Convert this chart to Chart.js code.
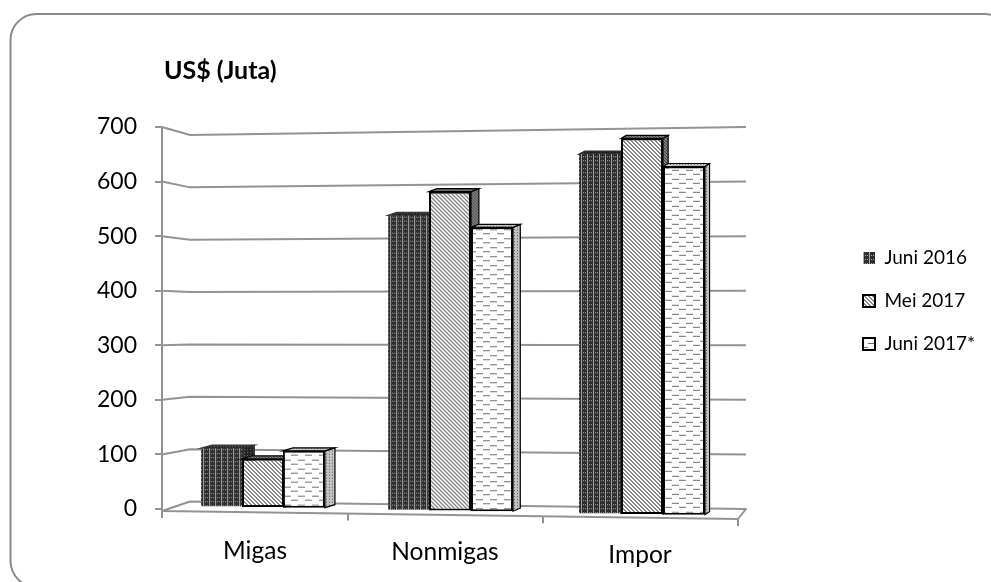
<!DOCTYPE html>
<html><head><meta charset="utf-8">
<script src="https://cdn.jsdelivr.net/npm/chart.js@4"></script>
<style>html,body{margin:0;padding:0;background:#fff}#w{width:991px;height:582px;position:relative}</style>
</head><body><div id="w"><canvas id="c" width="991" height="582"></canvas></div>
<script>
const categories = ['Migas','Nonmigas','Impor'];
const seriesNames = ['Juni 2016','Mei 2017','Juni 2017*'];
const juni2016 = [108, 541, 660];
const mei2017 = [90, 586, 690];
const juni2017 = [106, 522, 640];
const yTicksMax = 700, yTickStep = 100;

function tile(w,h,bg,fg,cells){
  const c=document.createElement('canvas');c.width=w;c.height=h;
  const g=c.getContext('2d');g.fillStyle=bg;g.fillRect(0,0,w,h);g.fillStyle=fg;
  cells.forEach(r=>g.fillRect(r[0],r[1],r[2],r[3]));
  return document.createElement('canvas').getContext('2d').createPattern(c,'repeat');
}
const pDark = tile(6,4,'#2e2e2e','#a8a8a8',[[5,0,1,4],[1,3,1,1],[3,3,1,1]]);
const pDiag = tile(4,4,'#ffffff','#8a8a8a',[[0,0,1,1],[1,1,1,1],[2,2,1,1],[3,3,1,1],[1,0,1,1],[2,1,1,1],[3,2,1,1],[0,3,1,1]]);
const pDash = tile(14,9,'#ffffff','#707070',[[0,1,7,1],[7,5,7,1]]);
const pSideDark = tile(3,3,'#222222','#777777',[[1,1,1,1]]);
const pSideDiag = tile(3,3,'#808080','#444444',[[0,0,1,1],[1,1,1,1],[2,2,1,1]]);
const pSideDash = tile(3,3,'#c4c4c4','#505050',[[1,1,1,1]]);
const sides=[pSideDark,pSideDiag,pSideDash];

const gridGray='#939393';
const labelPos=[[255,551],[445,552],[640,555]];
const front3d={
  id:'front3d',
  afterLayout(chart){
    const t=chart.titleBlock; t.left=164; t.right=500;
    const l=chart.legend; l.left=839; l.right=991; l.top=224.5; l.bottom=582;
  },
  beforeDraw(chart){
    const ctx=chart.ctx;
    ctx.save();ctx.strokeStyle='#8a8a8a';ctx.lineWidth=2;
    ctx.beginPath();ctx.roundRect(10.5,14,1000,573,26);ctx.stroke();ctx.restore();
    const items=chart.scales.x.getLabelItems(chart.chartArea);
    items.forEach((it,i)=>{it.options.translation=labelPos[i].slice();it.textOffset=0;it.options.textBaseline='middle';it.options.textAlign='center';});
  },
  beforeDatasetsDraw(chart){
    const ctx=chart.ctx,y=chart.scales.y,x=chart.scales.x;
    const a=chart.chartArea;
    ctx.save();ctx.strokeStyle=gridGray;ctx.lineWidth=2;ctx.lineJoin='round';
    const backL=190,backR=746;
    for(let v=yTickStep;v<=yTicksMax;v+=yTickStep){
      const p=y.getPixelForValue(v);
      const yl=501.5+(p-a.bottom)*366.5/382;
      ctx.beginPath();ctx.moveTo(a.left,p);ctx.lineTo(backL,yl);ctx.lineTo(backR,p);ctx.stroke();
    }
    ctx.beginPath();ctx.moveTo(a.left,a.bottom+2);ctx.lineTo(backL,501.5);ctx.lineTo(backR,a.bottom);ctx.lineTo(a.right,a.bottom+10);ctx.closePath();ctx.stroke();
    ctx.beginPath();ctx.moveTo(a.left,a.bottom);ctx.lineTo(a.left,a.bottom+9);
    for(let i=1;i<=categories.length;i++){
      const b=x.getPixelForValue(i-0.5);
      const bx=b-6*(a.right-b)/384;
      const fy=a.bottom+2+(bx-a.left)*8/576;
      ctx.moveTo(bx,fy);ctx.lineTo(bx,fy+7);
    }
    ctx.stroke();ctx.restore();

    chart.data.datasets.forEach((ds,di)=>{
      chart.getDatasetMeta(di).data.forEach(el=>{
        const {x:cx,y:top,base,width}=el.getProps(['x','y','base','width'],true);
        const dx=5*Math.max(0,(450-cx)/192);
        const dy=-1+(cx-263)*7/380;
        const r=cx+width/2, l=cx-width/2, d=Math.max(4,10-(r-325)*0.0143), u=3;
        ctx.save();ctx.translate(dx,dy);
        ctx.fillStyle=sides[di];ctx.strokeStyle=di===0?'#333':'#000';ctx.lineWidth=1.2;
        ctx.beginPath();ctx.moveTo(r,top);ctx.lineTo(r+d,top-u);ctx.lineTo(r+d,base-u);ctx.lineTo(r,base);ctx.closePath();ctx.fill();ctx.stroke();
        ctx.beginPath();ctx.moveTo(l,top);ctx.lineTo(l+d,top-u);ctx.lineTo(r+d,top-u);ctx.lineTo(r,top);ctx.closePath();ctx.fill();ctx.stroke();
        el.draw(ctx,chart.chartArea);
        ctx.restore();
      });
    });
    return false;
  }
};

new Chart(document.getElementById('c'),{
  type:'bar',
  plugins:[front3d],
  data:{labels:categories,datasets:[
    {label:seriesNames[0],data:juni2016,backgroundColor:pDark,borderColor:'#222',borderWidth:0,borderSkipped:false},
    {label:seriesNames[1],data:mei2017,backgroundColor:pDiag,borderColor:'#000',borderWidth:2,borderSkipped:false},
    {label:seriesNames[2],data:juni2017,backgroundColor:pDash,borderColor:'#000',borderWidth:2,borderSkipped:false}
  ]},
  options:{
    responsive:false,animation:false,devicePixelRatio:1,
    layout:{padding:{right:253,left:0,top:0,bottom:0}},
    datasets:{bar:{categoryPercentage:0.656,barPercentage:1}},
    plugins:{
      tooltip:{enabled:false},
      title:{display:true,text:'US$ (Juta)',align:'start',color:'#000',
        font:{family:'Lato',size:25,weight:'bold',lineHeight:1.2},padding:{top:56,bottom:41}},
      legend:{display:true,position:'chartArea',align:'start',
        labels:{color:'#000',font:{family:'Lato',size:19},boxWidth:12,boxHeight:12,padding:24}}
    },
    scales:{
      x:{type:'category',grid:{display:false},border:{display:false},
        ticks:{color:'#000',font:{family:'Lato',size:24.5},maxRotation:0,autoSkip:false},
        afterFit(s){s.height=73;}},
      y:{type:'linear',min:0,max:yTicksMax,
        grid:{drawOnChartArea:false,drawTicks:true,tickLength:7,color:gridGray,lineWidth:2},
        border:{display:true,color:gridGray,width:2},
        ticks:{stepSize:yTickStep,color:'#000',padding:18,font:{family:'Lato',size:23}},
        afterFit(s){s.width=162;}}
    }
  }
});
</script></body></html>
